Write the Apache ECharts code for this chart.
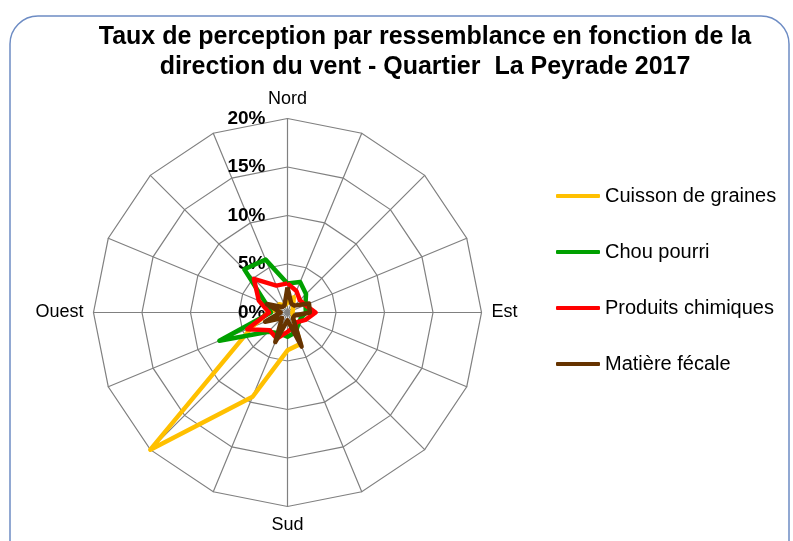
<!DOCTYPE html>
<html>
<head>
<meta charset="utf-8">
<title>Taux de perception - La Peyrade 2017</title>
<script src="https://cdn.jsdelivr.net/npm/echarts@6/dist/echarts.min.js"></script>
<style>
    html, body { margin: 0; padding: 0; background: #fff; }
    #radarChart { width: 793px; height: 541px; }
</style>
</head>
<body>
<div id="radarChart"></div>
<script>
// directions du vent, dans le sens horaire depuis le Nord
var directions = ['Nord', 'NNE', 'NE', 'ENE', 'Est', 'ESE', 'SE', 'SSE', 'Sud', 'SSO', 'SO', 'OSO', 'Ouest', 'ONO', 'NO', 'NNO'];
var dirLabels = ['Nord', '', '', '', 'Est', '', '', '', 'Sud', '', '', '', 'Ouest', '', '', ''];

// taux (%) par direction, même ordre que directions
var cuisson = [1.0, 1.7, 0.8, 0.6, 0.5, 0.6, 0.8, 3.5, 3.9, 9.4, 20.0, 4.0, 2.0, 1.0, 1.2, 0.8];
var chou = [3.0, 3.4, 2.7, 2.0, 1.9, 1.5, 1.6, 2.2, 2.5, 2.3, 2.8, 7.6, 1.7, 2.4, 6.3, 5.9];
var produits = [3.0, 2.4, 1.8, 2.0, 2.9, 2.0, 1.4, 1.6, 2.0, 2.9, 2.6, 4.5, 1.9, 3.2, 4.9, 3.0];
var fecale = [2.6, 1.0, 1.0, 2.4, 2.3, 0.8, 0.8, 3.8, 0.8, 3.3, 0.8, 2.5, 0.7, 2.3, 0.8, 0.8];

var seriesNames = ['Cuisson de graines', 'Chou pourri', 'Produits chimiques', 'Matière fécale'];
var seriesColors = ['#ffc000', '#00a000', '#ff0000', '#663300'];
var radarMax = 20;

(function () {
    "use strict";

    // echarts tourne dans le sens anti-horaire : on inverse l'ordre
    function toRadarOrder(arr) {
        var out = [];
        for (var i = 0; i < arr.length; i++) {
            out.push(arr[(arr.length - i) % arr.length]);
        }
        return out;
    }

    var names = toRadarOrder(dirLabels);
    var indicators = names.map(function (n, i) {
        var ind = { name: n, min: 0, max: radarMax };
        // graduations seulement sur l'axe du Nord
        if (i !== 0) {
            ind.axisLabel = { show: false };
        }
        return ind;
    });

    var allData = [cuisson, chou, produits, fecale];
    var series = allData.map(function (d, idx) {
        return {
            name: seriesNames[idx],
            type: 'radar',
            symbol: 'none',
            color: seriesColors[idx],
            lineStyle: { color: seriesColors[idx], width: 4.5 },
            itemStyle: { color: seriesColors[idx] },
            data: [{ name: seriesNames[idx], value: toRadarOrder(d) }]
        };
    });

    var option = {
        animation: false,
        title: {
            text: 'Taux de perception par ressemblance en fonction de la\ndirection du vent - Quartier  La Peyrade 2017',
            left: 420,
            top: 17,
            textAlign: 'center',
            textStyle: {
                fontFamily: 'Liberation Sans',
                fontSize: 25,
                fontWeight: 'bold',
                color: '#000',
                lineHeight: 30
            }
        },
        legend: {
            orient: 'vertical',
            left: 556,
            top: 186,
            padding: 0,
            itemWidth: 44,
            itemHeight: 4,
            itemGap: 36,
            icon: 'roundRect',
            data: seriesNames,
            textStyle: {
                fontFamily: 'Liberation Sans',
                fontSize: 20,
                lineHeight: 20,
                color: '#000'
            }
        },
        radar: {
            center: [287.5, 312.5],
            radius: 194,
            startAngle: 90,
            shape: 'polygon',
            splitNumber: 4,
            indicator: indicators,
            axisName: {
                color: '#000',
                fontFamily: 'Liberation Sans',
                fontSize: 18
            },
            nameGap: 10,
            axisLine: { lineStyle: { color: '#808080', width: 1.2 } },
            splitLine: { lineStyle: { color: '#808080', width: 1.2 } },
            splitArea: { show: false },
            axisTick: { show: false },
            axisLabel: {
                show: true,
                showMinLabel: true,
                showMaxLabel: true,
                margin: 22,
                formatter: '{value}%',
                color: '#000',
                fontFamily: 'Liberation Sans',
                fontSize: 19,
                fontWeight: 'bold'
            }
        },
        graphic: [{
            type: 'rect',
            silent: true,
            z: -1,
            shape: { x: 10, y: 16, width: 779, height: 560, r: 28 },
            style: { fill: 'none', stroke: '#6d8cc4', lineWidth: 1.5 }
        }],
        series: series
    };

    var chart = echarts.init(document.getElementById('radarChart'));
    chart.setOption(option);
})();
</script>
</body>
</html>
